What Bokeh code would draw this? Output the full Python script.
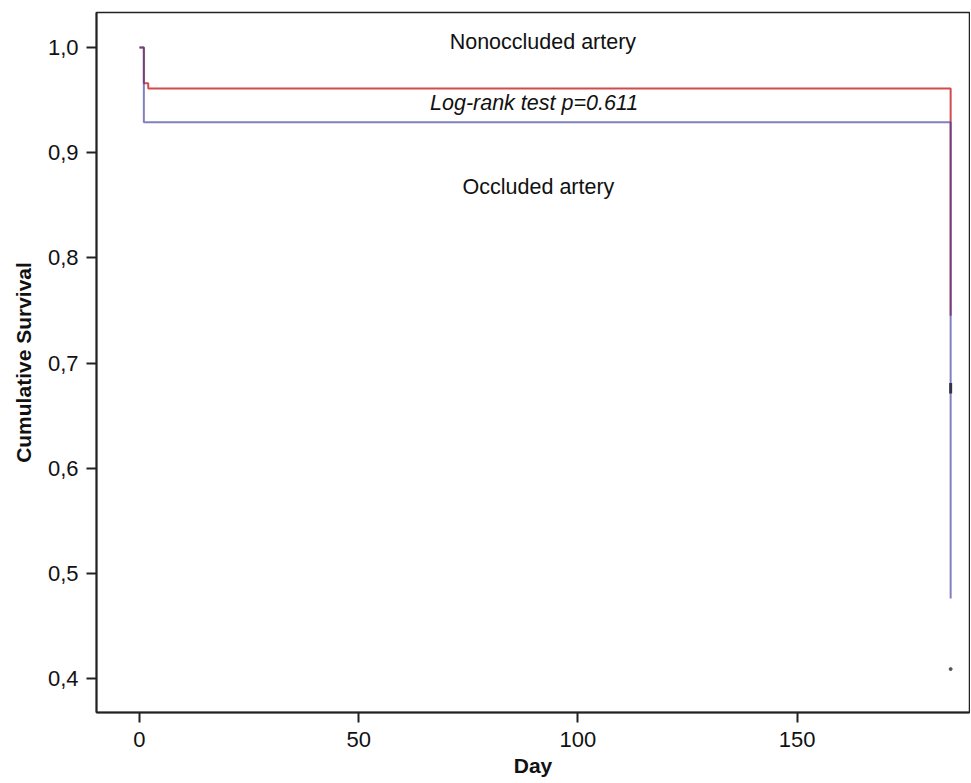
from bokeh.plotting import figure
from bokeh.models import Range1d, FixedTicker, CustomJSTickFormatter
from bokeh.core.properties import value
from bokeh.embed import file_html
from bokeh.resources import INLINE

# Kaplan-Meier curves (day, cumulative survival)
nonocc_days = [0, 1, 2, 185]
nonocc_surv = [1.0, 0.966, 0.961, 0.745]
occ_days = [0, 1, 185]
occ_surv = [1.0, 0.929, 0.476]

# censor marks
censor_days = [185]
censor_surv = [0.676]
dot_days = [185]
dot_surv = [0.409]

x_ticks = [0, 50, 100, 150]
y_ticks = [0.4, 0.5, 0.6, 0.7, 0.8, 0.9, 1.0]

labels_text = ["Nonoccluded artery", "Occluded artery"]
labels_x = [92, 91]
labels_y = [1.005, 0.867]
logrank_text = ["Log-rank test p=0.611"]
logrank_x = [90]
logrank_y = [0.947]

FONT = "Liberation Sans"

p = figure(width=970, height=783, output_backend="svg", toolbar_location=None,
           x_range=Range1d(-9.8, 189.3), y_range=Range1d(0.3677, 1.0333),
           min_border_left=96, min_border_right=1, min_border_top=12, min_border_bottom=71)

p.xgrid.visible = False
p.ygrid.visible = False
p.background_fill_color = "white"
p.border_fill_color = "white"
p.outline_line_color = "#222222"
p.outline_line_width = 1.5

p.step(nonocc_days, nonocc_surv, mode="after", line_color="#d24b4b", line_width=2)
p.step(occ_days, occ_surv, mode="after", line_color="#3c3ca0", line_alpha=0.65, line_width=2)

p.segment(x0=censor_days, y0=[v - 0.005 for v in censor_surv], x1=censor_days,
          y1=[v + 0.005 for v in censor_surv], line_color="#333344", line_width=3)
p.scatter(dot_days, dot_surv, size=3, color="#555555")

p.text(x=labels_x, y=labels_y, text=labels_text, text_align="center", text_baseline="middle",
       text_font=value(FONT), text_font_size="21.5px", text_color="#111111")
p.text(x=logrank_x, y=logrank_y, text=logrank_text, text_align="center", text_baseline="middle",
       text_font=value(FONT), text_font_size="21.5px", text_font_style="italic", text_color="#111111")

for ax in (p.xaxis[0], p.yaxis[0]):
    ax.axis_line_color = "#222222"
    ax.axis_line_width = 2
    ax.major_tick_line_color = "#222222"
    ax.major_tick_line_width = 2
    ax.major_tick_out = 10
    ax.major_tick_in = 0
    ax.minor_tick_line_color = None
    ax.major_label_text_font = FONT
    ax.major_label_text_font_size = "22px"
    ax.major_label_text_color = "#111111"
    ax.axis_label_text_font = FONT
    ax.axis_label_text_font_size = "21px"
    ax.axis_label_text_font_style = "bold"
    ax.axis_label_text_color = "#111111"

p.xaxis.ticker = FixedTicker(ticks=x_ticks)
p.yaxis.ticker = FixedTicker(ticks=y_ticks)
p.yaxis.formatter = CustomJSTickFormatter(code="return tick.toFixed(1).replace('.', ',');")
p.xaxis.axis_label = "Day"
p.yaxis.axis_label = "Cumulative Survival"
p.xaxis.major_label_standoff = 9
p.yaxis.major_label_standoff = 8
p.xaxis.axis_label_standoff = 4
p.yaxis.axis_label_standoff = 10

open("out.html", "w").write(file_html(p, INLINE))
